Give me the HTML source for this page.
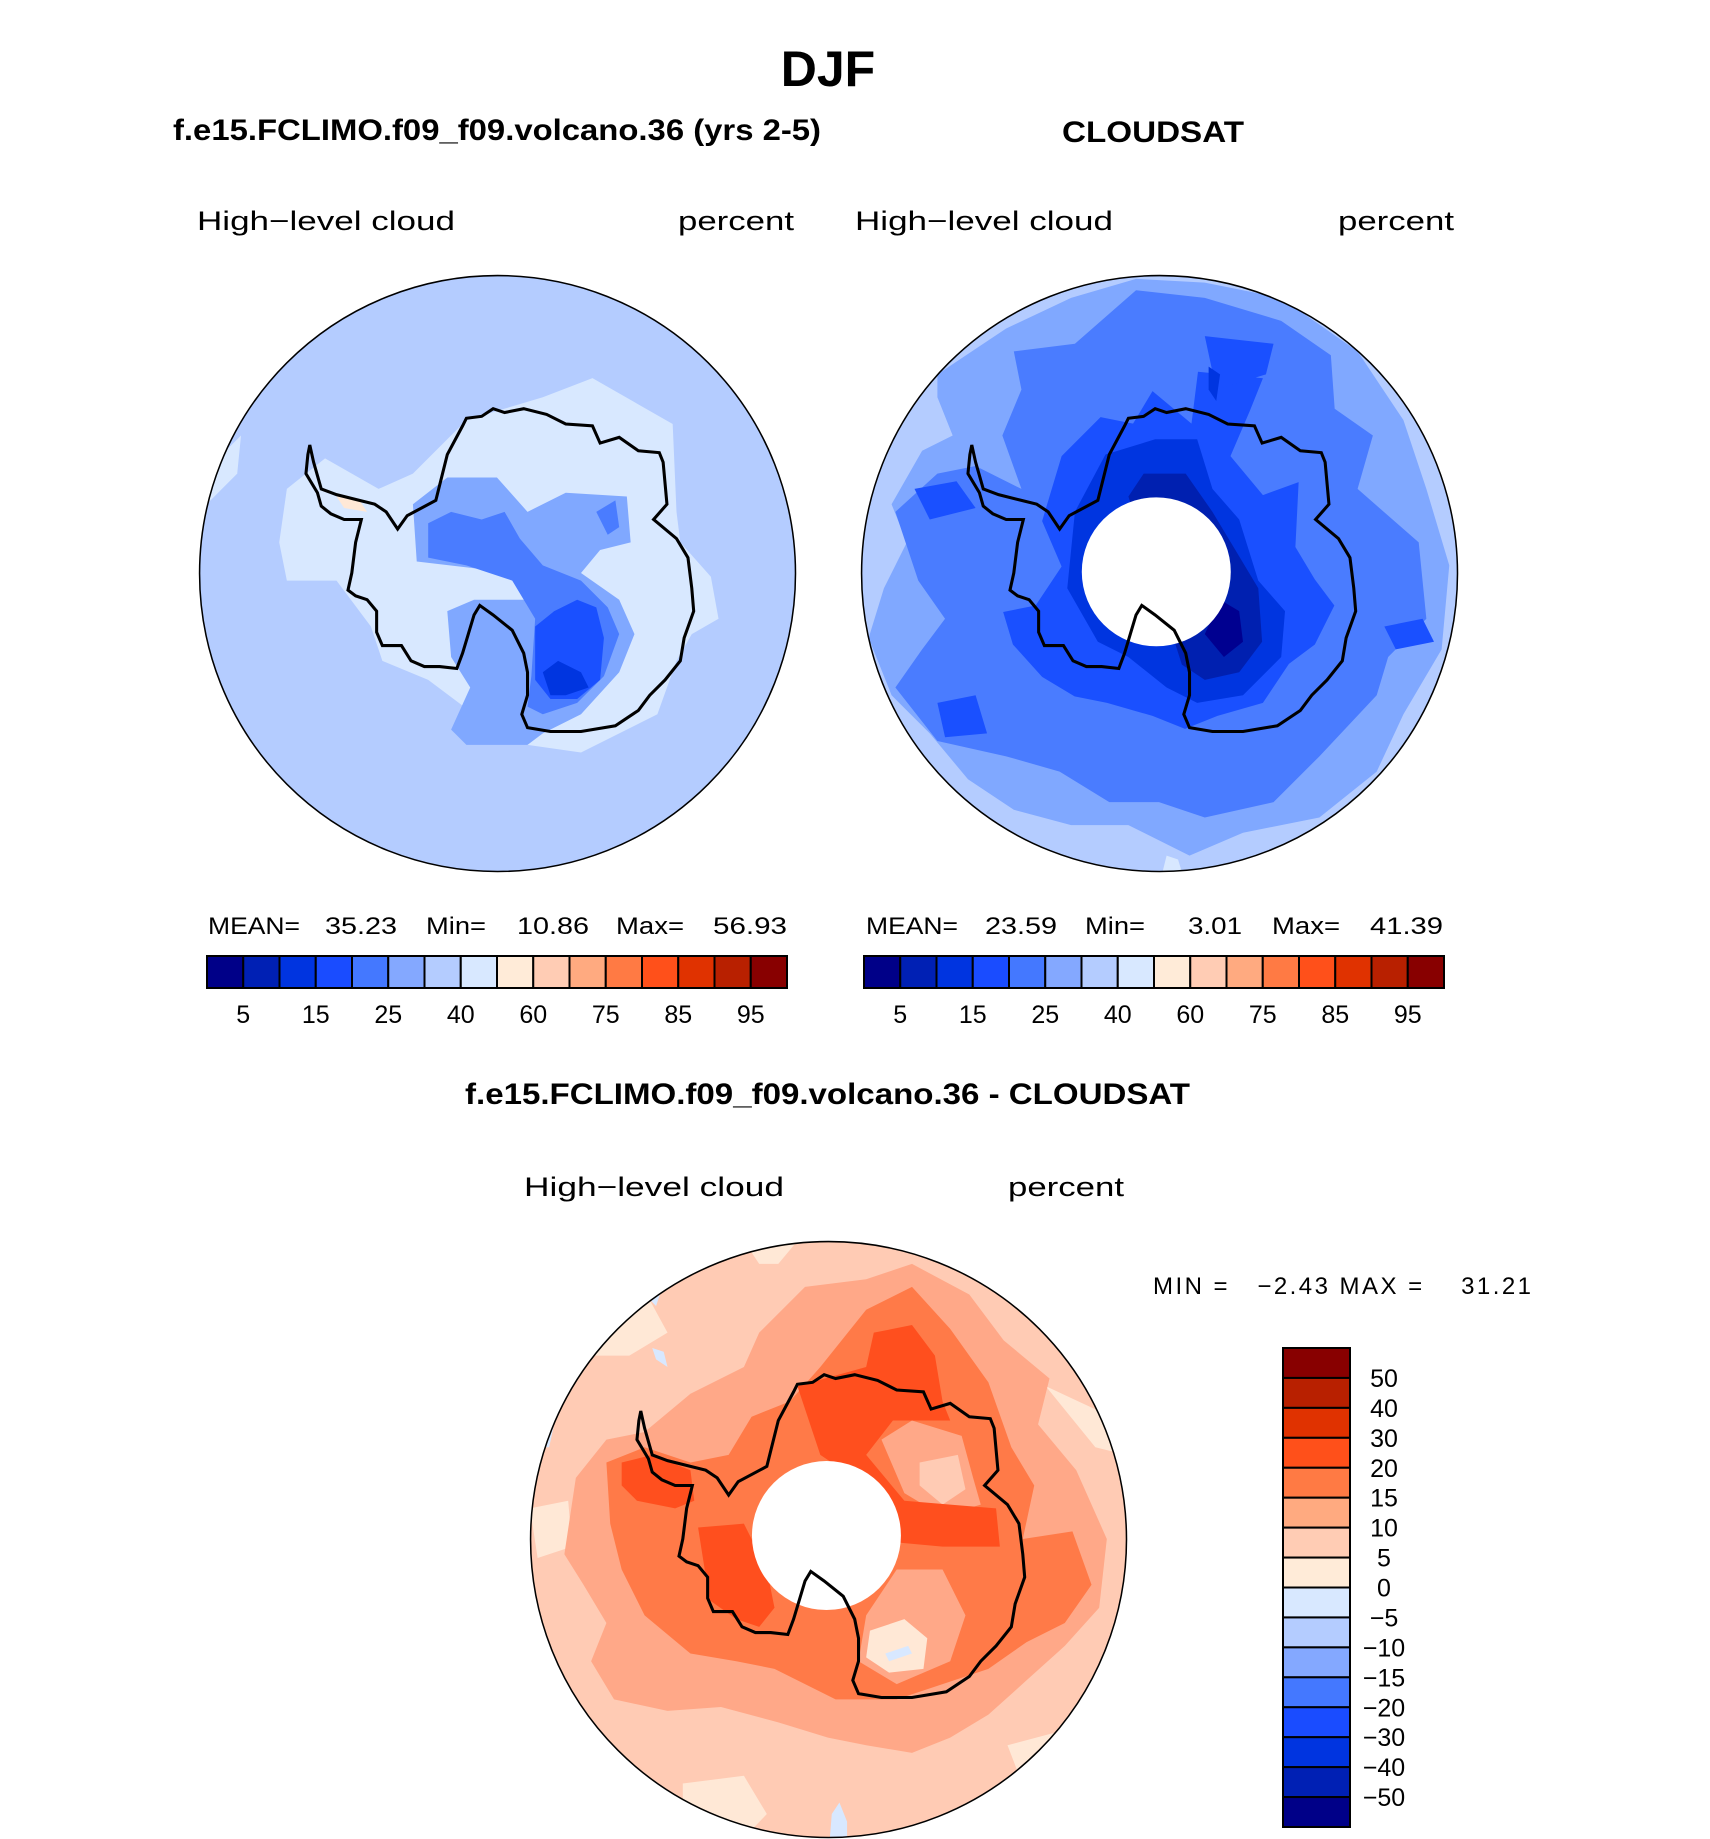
<!DOCTYPE html>
<html><head><meta charset="utf-8">
<style>
html,body{margin:0;padding:0;background:#fff;}
svg{display:block;}
.t{font-family:"Liberation Sans",sans-serif;fill:#000;}
</style></head>
<body>
<svg id="fig" xmlns="http://www.w3.org/2000/svg" width="1710" height="1839" viewBox="0 0 1710 1839">
<defs>
  <path id="coast" d="M290,445 L300,490 L320,560 L360,575 L420,590 L460,600 L490,620 L520,665 L545,630 L620,590 L650,470 L690,395 L700,375 L740,370 L770,350 L800,360 L850,350 L910,365 L960,390 L1030,395 L1050,440 L1100,425 L1150,460 L1205,465 L1215,490 L1225,600 L1190,640 L1250,690 L1280,740 L1290,820 L1295,880 L1270,950 L1260,1010 L1220,1060 L1180,1100 L1150,1140 L1090,1180 L1000,1195 L920,1195 L860,1185 L845,1150 L860,1100 L860,1040 L850,990 L820,930 L770,890 L735,865 L720,890 L705,940 L690,990 L675,1030 L630,1025 L590,1025 L555,1010 L530,970 L480,970 L465,935 L465,880 L440,850 L410,840 L390,825 L400,780 L410,700 L425,640 L380,640 L345,625 L320,605 L310,570 L280,520 L285,470 Z"/>
  <clipPath id="disk"><circle cx="781.5" cy="781.5" r="780"/></clipPath>
</defs>

<text class="t" x="828" y="86" text-anchor="middle" font-size="50" font-weight="bold">DJF</text>
<text class="t" x="173" y="140" font-size="30" font-weight="bold" textLength="648" lengthAdjust="spacingAndGlyphs">f.e15.FCLIMO.f09_f09.volcano.36 (yrs 2-5)</text>
<text class="t" x="1062" y="142" font-size="30" font-weight="bold" textLength="182" lengthAdjust="spacingAndGlyphs">CLOUDSAT</text>

<text class="t" x="197" y="230" font-size="27" textLength="258" lengthAdjust="spacingAndGlyphs">High−level cloud</text>
<text class="t" x="678" y="230" font-size="27" textLength="116" lengthAdjust="spacingAndGlyphs">percent</text>
<text class="t" x="855" y="230" font-size="27" textLength="258" lengthAdjust="spacingAndGlyphs">High−level cloud</text>
<text class="t" x="1338" y="230" font-size="27" textLength="116" lengthAdjust="spacingAndGlyphs">percent</text>

<!-- LEFT MAP -->
<g transform="translate(199,275) scale(0.382)">
 <g clip-path="url(#disk)">
  <rect width="1563" height="1563" fill="#b4ccff"/>
  <path fill="#d8e8ff" d="M230,560 L330,480 L470,560 L560,520 L700,380 L900,320 L1030,270 L1240,390 L1250,620 L1260,700 L1340,790 L1360,900 L1290,940 L1250,1010 L1200,1150 L1000,1250 L860,1230 L760,1180 L600,1060 L480,1010 L450,920 L360,800 L230,800 L210,700 Z"/>
  <path fill="#d8e8ff" d="M20,600 L60,470 L110,420 L100,520 Z"/>
  <path fill="#80a8ff" d="M560,600 L650,530 L780,530 L860,620 L960,570 L1120,580 L1130,700 L1050,720 L1000,780 L1100,850 L1140,940 L1100,1040 L1000,1150 L900,1200 L860,1230 L700,1230 L660,1190 L710,1080 L660,1000 L650,880 L720,850 L850,850 L860,790 L740,770 L570,750 Z"/>
  <path fill="#4a7cff" d="M600,650 L660,620 L740,640 L800,620 L840,690 L900,760 L1000,800 L1070,870 L1100,940 L1060,1050 L990,1120 L900,1150 L860,1130 L870,1050 L880,900 L820,800 L700,760 L600,740 Z"/>
  <path fill="#4a7cff" d="M1040,620 L1090,590 L1100,660 L1070,680 Z"/>
  <path fill="#1a50ff" d="M880,920 L930,880 L990,850 L1040,870 L1060,950 L1050,1060 L990,1110 L920,1110 L880,1060 Z"/>
  <path fill="#0035e0" d="M900,1040 L940,1010 L1000,1040 L1020,1080 L960,1100 L920,1100 Z"/>
  <path fill="#ffe8d6" d="M360,580 L420,590 L440,620 L380,610 Z"/>
 </g>
 <use href="#coast" fill="none" stroke="#000" stroke-width="8"/>
 <circle cx="781.5" cy="781.5" r="780" fill="none" stroke="#000" stroke-width="4"/>
</g>

<!-- RIGHT MAP -->
<g transform="translate(861,275) scale(0.382)">
 <g clip-path="url(#disk)">
  <rect width="1563" height="1563" fill="#b4ccff"/>
  <path fill="#80a8ff" d="M200,260 L380,140 L550,60 L720,10 L900,20 L1100,60 L1300,200 L1420,380 L1480,560 L1540,760 L1520,980 L1420,1150 L1350,1300 L1200,1420 L1000,1460 L860,1520 L700,1440 L550,1440 L400,1400 L280,1320 L180,1200 L80,1100 L20,950 L60,820 L120,700 L80,600 L160,460 L240,420 L200,320 Z"/>
  <path fill="#4a7cff" d="M400,200 L560,180 L720,40 L900,60 L1100,120 L1230,210 L1240,350 L1340,420 L1300,560 L1460,700 L1480,900 L1380,1000 L1350,1100 L1200,1260 L1080,1380 L900,1420 L780,1380 L650,1380 L520,1300 L380,1260 L200,1220 L90,1080 L160,980 L220,900 L150,800 L90,620 L200,520 L300,500 L420,560 L370,420 L420,300 Z"/>
  <g transform="translate(781,781) scale(0.85) translate(-781,-781)">
  <path fill="#1a50ff" d="M480,420 L600,300 L700,320 L760,220 L880,320 L900,160 L1100,180 L1060,280 L1000,420 L1100,540 L1210,500 L1200,700 L1260,800 L1320,880 L1260,1000 L1180,1060 L1100,1180 L960,1220 L860,1260 L760,1220 L620,1180 L520,1160 L420,1100 L330,1000 L300,900 L400,880 L480,760 L420,620 Z"/>
  </g>
  <path fill="#1a50ff" d="M200,1120 L300,1100 L330,1200 L220,1210 Z M1370,920 L1470,900 L1500,960 L1400,980 Z M140,560 L250,540 L300,610 L180,640 Z M900,160 L1080,180 L1060,260 L930,300 Z"/>
  <path fill="#0035e0" d="M560,620 L640,470 L770,430 L880,430 L920,560 L990,640 L1040,800 L1110,880 L1100,1000 L1000,1100 L880,1120 L800,1080 L700,1000 L620,960 L540,820 Z"/>
  <path fill="#0035e0" d="M910,240 L940,260 L930,330 L910,300 Z"/>
  <path fill="#0020b0" d="M700,580 L740,520 L850,520 L920,620 L980,720 L1040,820 L1050,960 L990,1040 L900,1060 L840,1020 Z"/>
  <path fill="#000090" d="M900,940 L940,850 L990,880 L1000,960 L950,1000 Z"/>
  <path fill="#d8e8ff" d="M790,1560 L800,1520 L830,1530 L840,1563 Z"/>
  <circle cx="773" cy="777" r="195" fill="#fff"/>
 </g>
 <use href="#coast" fill="none" stroke="#000" stroke-width="8"/>
 <circle cx="781.5" cy="781.5" r="780" fill="none" stroke="#000" stroke-width="4"/>
</g>

<!-- BOTTOM MAP -->
<g transform="translate(530,1241) scale(0.382)">
 <g clip-path="url(#disk)">
  <rect width="1563" height="1563" fill="#ffcbb4"/>
  <path fill="#ffe8d6" d="M0,700 L100,680 L110,800 L20,830 Z M160,180 L300,130 L360,240 L260,300 L150,300 Z M560,0 L700,0 L650,60 L600,60 Z M1350,380 L1500,450 L1560,560 L1480,540 Z M400,1420 L560,1400 L620,1500 L560,1563 L400,1563 Z M1250,1320 L1400,1280 L1450,1380 L1300,1450 Z M880,1020 L960,990 L1040,1030 L1060,1140 L960,1160 L880,1120 Z"/>
  <path fill="#ffa888" d="M120,620 L200,520 L300,500 L420,400 L560,330 L600,240 L720,120 L880,100 L1000,60 L1150,140 L1240,260 L1360,360 L1330,480 L1430,600 L1510,780 L1490,960 L1400,1060 L1300,1150 L1200,1240 L1100,1300 L1000,1340 L880,1320 L780,1300 L650,1260 L500,1220 L360,1230 L220,1200 L160,1100 L200,1000 L140,900 L90,820 Z"/>
  <path fill="#ff7a48" d="M200,580 L300,540 L420,580 L520,560 L580,460 L680,420 L760,330 L880,180 L1000,120 L1100,230 L1200,370 L1260,540 L1320,640 L1290,780 L1420,760 L1470,900 L1400,1000 L1300,1050 L1200,1120 L1080,1160 L960,1200 L800,1200 L640,1120 L540,1100 L420,1080 L300,980 L240,860 L210,740 Z"/>
  <path fill="#ffa888" d="M920,520 L1000,470 L1130,510 L1160,620 L1180,690 L1080,720 L980,660 Z"/>
  <path fill="#ffcbb4" d="M1020,580 L1120,560 L1140,650 L1080,690 L1020,640 Z"/>
  <path fill="#ffa888" d="M960,860 L1080,860 L1140,980 L1100,1100 L960,1160 L860,1100 L880,980 Z"/>
  <path fill="#ffe8d6" d="M890,1020 L980,990 L1040,1040 L1030,1120 L940,1130 L880,1090 Z"/>
  <path fill="#ff4f1e" d="M240,580 L320,560 L420,600 L430,680 L380,700 L280,680 L240,640 Z"/>
  <path fill="#ff4f1e" d="M700,380 L880,330 L900,240 L1000,220 L1060,300 L1080,420 L1100,470 L950,470 L880,560 L980,680 L1100,690 L1220,700 L1230,800 L1080,800 L970,790 L940,700 L880,640 L760,560 Z"/>
  <path fill="#ff4f1e" d="M440,750 L560,740 L620,860 L640,960 L600,1010 L540,990 L470,940 Z"/>
  <path fill="#d8e8ff" d="M310,150 L340,140 L330,170 Z M320,280 L350,290 L360,330 L330,310 Z M790,1500 L810,1470 L830,1520 L830,1563 L785,1563 Z M930,1080 L990,1060 L1000,1080 L940,1100 Z M30,470 L70,450 L50,540 L30,540 Z"/>
  <circle cx="776" cy="771" r="195" fill="#fff"/>
 </g>
 <use href="#coast" fill="none" stroke="#000" stroke-width="8"/>
 <circle cx="781.5" cy="781.5" r="780" fill="none" stroke="#000" stroke-width="4"/>
</g>

<!-- stats -->
<g class="t" font-size="24">
 <text class="t" x="208" y="934" textLength="92" lengthAdjust="spacingAndGlyphs">MEAN=</text>
 <text class="t" x="325" y="934" textLength="72" lengthAdjust="spacingAndGlyphs">35.23</text>
 <text class="t" x="426" y="934" textLength="60" lengthAdjust="spacingAndGlyphs">Min=</text>
 <text class="t" x="517" y="934" textLength="72" lengthAdjust="spacingAndGlyphs">10.86</text>
 <text class="t" x="616" y="934" textLength="68" lengthAdjust="spacingAndGlyphs">Max=</text>
 <text class="t" x="713" y="934" textLength="74" lengthAdjust="spacingAndGlyphs">56.93</text>
</g>
<g class="t" font-size="24">
 <text class="t" x="866" y="934" textLength="92" lengthAdjust="spacingAndGlyphs">MEAN=</text>
 <text class="t" x="985" y="934" textLength="72" lengthAdjust="spacingAndGlyphs">23.59</text>
 <text class="t" x="1085" y="934" textLength="60" lengthAdjust="spacingAndGlyphs">Min=</text>
 <text class="t" x="1188" y="934" textLength="54" lengthAdjust="spacingAndGlyphs">3.01</text>
 <text class="t" x="1272" y="934" textLength="68" lengthAdjust="spacingAndGlyphs">Max=</text>
 <text class="t" x="1370" y="934" textLength="73" lengthAdjust="spacingAndGlyphs">41.39</text>
</g>

<text class="t" x="465" y="1104" font-size="30" font-weight="bold" textLength="725" lengthAdjust="spacingAndGlyphs">f.e15.FCLIMO.f09_f09.volcano.36 - CLOUDSAT</text>
<text class="t" x="524" y="1196" font-size="27" textLength="260" lengthAdjust="spacingAndGlyphs">High−level cloud</text>
<text class="t" x="1008" y="1196" font-size="27" textLength="116" lengthAdjust="spacingAndGlyphs">percent</text>
<text class="t" x="1153" y="1294" font-size="24" textLength="378" lengthAdjust="spacing" xml:space="preserve">MIN =   −2.43 MAX =    31.21</text>

<g id="cb-left"></g>
<g id="cb-right"></g>
<g id="cb-diff"></g>
</svg>
<script>
const colors = ["#000088","#0020b4","#0034e0","#1a4cff","#4478ff","#84a8ff","#b4ccff","#d8e8ff","#ffebd8","#ffccb4","#ffaa80","#ff7a44","#ff501a","#e03200","#b82000","#880000"];
const absLevels = ["5","15","25","40","60","75","85","95"];
const absLevelIndex = [1,3,5,7,9,11,13,15];
const diffLevels = ["50","40","30","20","15","10","5","0","−5","−10","−15","−20","−30","−40","−50"];
const NS = "http://www.w3.org/2000/svg";

function hbar(id, x0, x1, y0, y1) {
  const g = document.getElementById(id);
  const w = (x1 - x0) / colors.length;
  colors.forEach((c, i) => {
    const r = document.createElementNS(NS, "rect");
    r.setAttribute("x", x0 + i * w); r.setAttribute("y", y0);
    r.setAttribute("width", w); r.setAttribute("height", y1 - y0);
    r.setAttribute("fill", c); r.setAttribute("stroke", "#000"); r.setAttribute("stroke-width", "2");
    
    
    g.appendChild(r);
  });
  absLevels.forEach((lab, k) => {
    const t = document.createElementNS(NS, "text");
    t.setAttribute("x", x0 + absLevelIndex[k] * w); t.setAttribute("y", y1 + 35);
    t.setAttribute("text-anchor", "middle"); t.setAttribute("class", "t"); t.setAttribute("font-size", "25");
    t.textContent = lab;
    
    
    g.appendChild(t);
  });
}
hbar("cb-left", 207, 787, 956, 988);
hbar("cb-right", 864, 1444, 956, 988);

(function () {
  const g = document.getElementById("cb-diff");
  const x0 = 1283, x1 = 1350, y0 = 1348, y1 = 1827;
  const h = (y1 - y0) / colors.length;
  const rev = colors.slice().reverse();
  rev.forEach((c, i) => {
    const r = document.createElementNS(NS, "rect");
    r.setAttribute("x", x0); r.setAttribute("y", y0 + i * h);
    r.setAttribute("width", x1 - x0); r.setAttribute("height", h);
    r.setAttribute("fill", c); r.setAttribute("stroke", "#000"); r.setAttribute("stroke-width", "2");
    
    
    g.appendChild(r);
  });
  diffLevels.forEach((lab, k) => {
    const t = document.createElementNS(NS, "text");
    t.setAttribute("x", 1384); t.setAttribute("y", y0 + (k + 1) * h + 9);
    t.setAttribute("text-anchor", "middle"); t.setAttribute("class", "t"); t.setAttribute("font-size", "25");
    t.textContent = lab;
    
    
    g.appendChild(t);
  });
})();
</script>
</body></html>
